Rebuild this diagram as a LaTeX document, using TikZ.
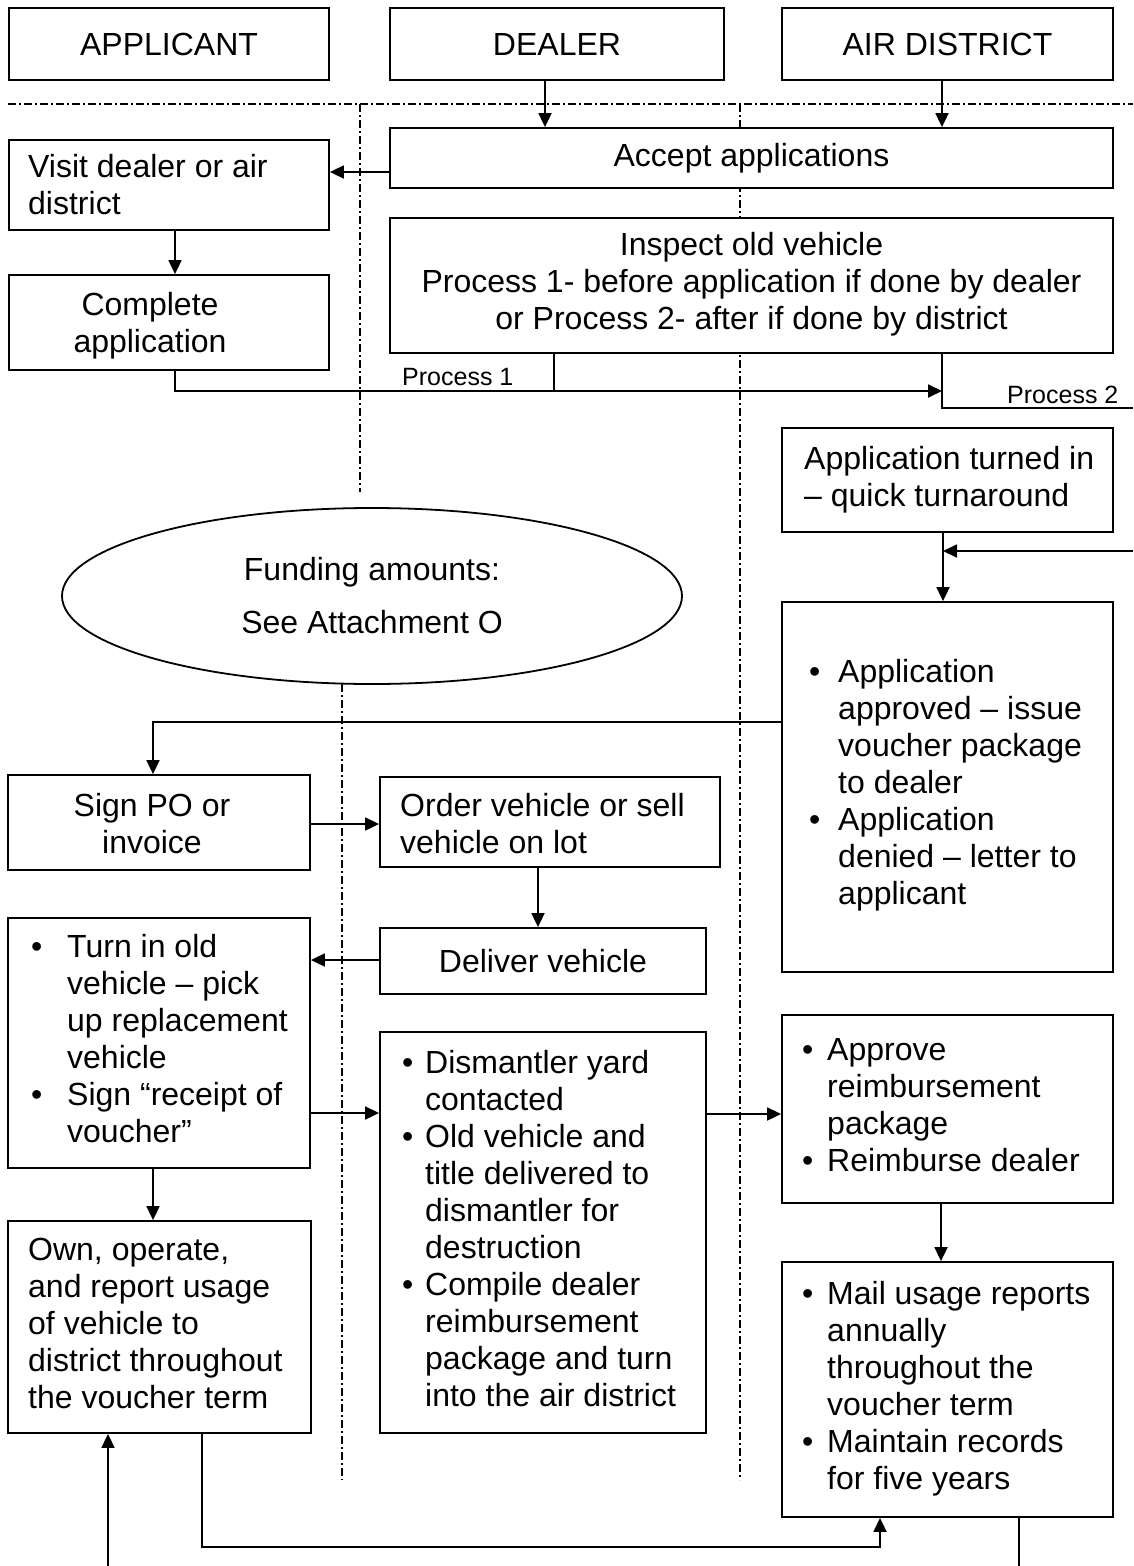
\documentclass[tikz,border=0pt]{standalone}
\usepackage{fontspec}
\setmainfont{Liberation Sans}
\usetikzlibrary{shapes.geometric,arrows.meta}
\newcommand\mainfs{\fontsize{32}{37}\selectfont}
\newcommand\smallfs{\fontsize{25}{30}\selectfont}
\newcommand\bul[1]{\makebox[#1][l]{•}}
\newcommand\ind[1]{\hspace*{#1}}
\begin{document}
\begin{tikzpicture}[x=1pt,y=-1pt,
 box/.style={draw, line width=1.8pt, fill=white, inner sep=0pt, font=\mainfs},
 txt/.style={inner sep=0pt, font=\mainfs, align=left, anchor=west},
 ctxt/.style={inner sep=0pt, font=\mainfs, align=center},
 arr/.style={line width=1.8pt, -{Triangle[length=14pt,width=13pt]}},
 con/.style={line width=1.8pt},
 lane/.style={line width=1.4pt, dash pattern=on 8pt off 3pt on 2pt off 3pt},
 lbl/.style={inner sep=0pt, font=\smallfs, anchor=base west}]
\useasboundingbox (0,0) rectangle (1133,1566);
\fill[white] (0,0) rectangle (1133,1566);
% lanes
\draw[lane] (8,104) -- (1133,104);
\draw[lane] (360,104) -- (360,492);
\draw[lane] (342,684) -- (342,1480);
\draw[lane] (740,104) -- (740,1480);
% headers
\node[box, minimum width=320pt, minimum height=72pt] (hA) at (169,44) {APPLICANT};
\node[box, minimum width=334pt, minimum height=72pt] (hD) at (557,44) {DEALER};
\node[box, minimum width=331pt, minimum height=72pt] (hR) at (947.5,44) {AIR DISTRICT};
% boxes
\node[box, minimum width=723pt, minimum height=60pt] (accept) at (751.5,158) {Accept applications};
\node[box, minimum width=320pt, minimum height=90pt] (visit) at (169,185) {};
\node[txt] (visitT) at (28,189) {\strut Visit dealer or air\\district\strut};
\node[box, minimum width=723pt, minimum height=135pt, align=center] (inspect) at (751.5,285.5) {\strut Inspect old vehicle\\Process 1- before application if done by dealer\\or Process 2- after if done by district\strut};
\node[box, minimum width=320pt, minimum height=95pt] (complete) at (169,322.5) {};
\node[ctxt] (completeT) at (150,327) {\strut Complete\\application\strut};
\node[box, minimum width=331pt, minimum height=104pt] (turned) at (947.5,480) {};
\node[txt] (turnedT) at (804,481) {\strut Application turned in\\– quick turnaround\strut};
\node[box, ellipse, minimum width=620pt, minimum height=176pt, align=center] (fund) at (372,596) {Funding amounts:\\[16pt]See Attachment O};
\node[box, minimum width=331pt, minimum height=370pt] (approved) at (947.5,787) {};
\node[txt] (approvedT) at (809,786) {\strut\bul{29pt}Application\\\ind{29pt}approved – issue\\\ind{29pt}voucher package\\\ind{29pt}to dealer\\\bul{29pt}Application\\\ind{29pt}denied – letter to\\\ind{29pt}applicant\strut};
\node[box, minimum width=302pt, minimum height=95pt] (signpo) at (159,822.5) {};
\node[ctxt] (signpoT) at (152,828) {\strut Sign PO or\\invoice\strut};
\node[box, minimum width=340pt, minimum height=90pt] (order) at (550,822) {};
\node[txt] (orderT) at (400,828) {\strut Order vehicle or sell\\vehicle on lot\strut};
\node[box, minimum width=326pt, minimum height=66pt] (deliver) at (543,961) {Deliver vehicle};
\node[box, minimum width=302pt, minimum height=250pt] (turnin) at (159,1043) {};
\node[txt] (turninT) at (31,1043) {\strut\bul{36pt}Turn in old\\\ind{36pt}vehicle – pick\\\ind{36pt}up replacement\\\ind{36pt}vehicle\\\bul{36pt}Sign “receipt of\\\ind{36pt}voucher”\strut};
\node[box, minimum width=303pt, minimum height=212pt] (own) at (159.5,1327) {};
\node[txt] (ownT) at (28,1327) {\strut Own, operate,\\and report usage\\of vehicle to\\district throughout\\the voucher term\strut};
\node[box, minimum width=326pt, minimum height=401pt] (dism) at (543,1232.5) {};
\node[txt] (dismT) at (402,1232.5) {\strut\bul{23pt}Dismantler yard\\\ind{23pt}contacted\\\bul{23pt}Old vehicle and\\\ind{23pt}title delivered to\\\ind{23pt}dismantler for\\\ind{23pt}destruction\\\bul{23pt}Compile dealer\\\ind{23pt}reimbursement\\\ind{23pt}package and turn\\\ind{23pt}into the air district\strut};
\node[box, minimum width=331pt, minimum height=188pt] (approve) at (947.5,1109) {};
\node[txt] (approveT) at (802,1109) {\strut\bul{25pt}Approve\\\ind{25pt}reimbursement\\\ind{25pt}package\\\bul{25pt}Reimburse dealer\strut};
\node[box, minimum width=331pt, minimum height=255pt] (mail) at (947.5,1389.5) {};
\node[txt] (mailT) at (802,1389.5) {\strut\bul{25pt}Mail usage reports\\\ind{25pt}annually\\\ind{25pt}throughout the\\\ind{25pt}voucher term\\\bul{25pt}Maintain records\\\ind{25pt}for five years\strut};
% connectors
\draw[arr] (hD.south -| 545,0) -- (accept.north -| 545,0);
\draw[arr] (hR.south -| 942,0) -- (accept.north -| 942,0);
\draw[arr] (accept.west |- 0,172) -- (visit.east |- 0,172);
\draw[arr] (visit.south -| 175,0) -- (complete.north -| 175,0);
\coordinate (p1) at (554,391);
\coordinate (p2) at (942,391);
\coordinate (p3) at (1133,408);
\draw[arr] (complete.south -| 175,0) |- (p2);
\draw[con] (inspect.south -| p1) -- (p1);
\draw[con] (inspect.south -| p2) |- (p3);
\node[lbl] (lp1) at (402,385) {Process 1};
\node[lbl] (lp2) at (1007,403) {Process 2};
\draw[arr] (turned.south -| 943,0) -- (approved.north -| 943,0);
\coordinate (r1) at (1133,551);
\coordinate (r2) at (943,551);
\draw[arr] (r1) -- (r2);
\draw[arr] (approved.west |- 0,722) -| (signpo.north -| 153,0);
\draw[arr] (signpo.east |- 0,824) -- (order.west |- 0,824);
\draw[arr] (order.south -| 538,0) -- (deliver.north -| 538,0);
\draw[arr] (deliver.west |- 0,960) -- (turnin.east |- 0,960);
\draw[arr] (turnin.south -| 153,0) -- (own.north -| 153,0);
\draw[arr] (turnin.east |- 0,1113) -- (dism.west |- 0,1113);
\draw[arr] (dism.east |- 0,1114) -- (approve.west |- 0,1114);
\draw[arr] (approve.south -| 941,0) -- (mail.north -| 941,0);
\coordinate (b1) at (202,1547);
\draw[arr] (own.south -| b1) -- (b1) -| (mail.south -| 880,0);
\coordinate (b2) at (108,1566);
\draw[arr] (b2) -- (own.south -| b2);
\coordinate (b3) at (1019,1566);
\draw[con] (mail.south -| b3) -- (b3);
\end{tikzpicture}
\end{document}
